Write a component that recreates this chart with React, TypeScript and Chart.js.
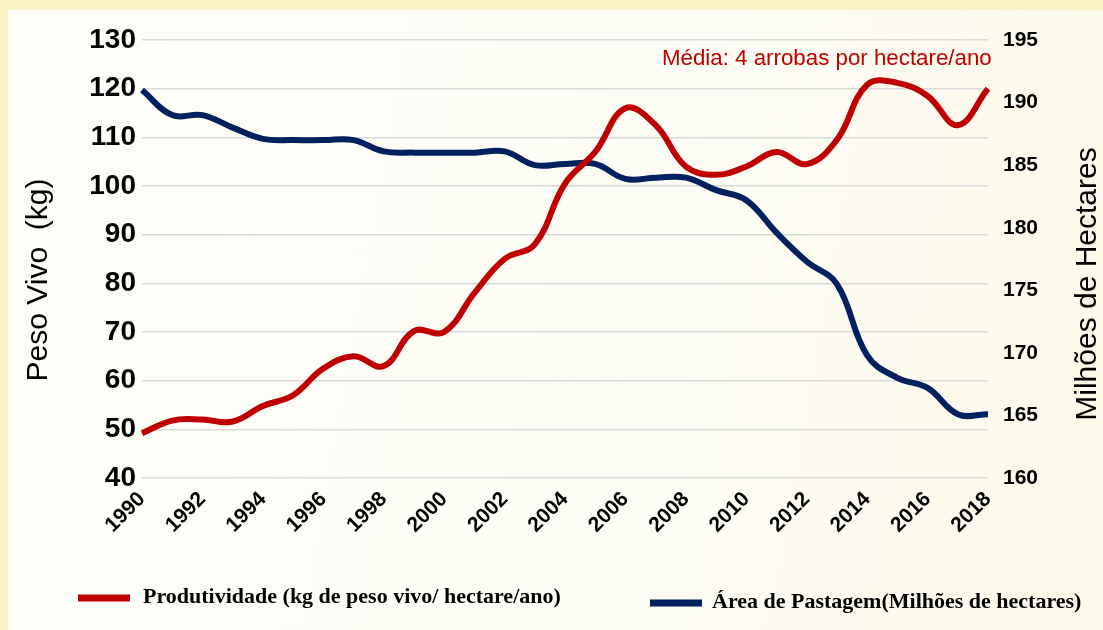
import React, { useEffect, useRef } from "react";
import { Chart, registerables } from "chart.js";

Chart.register(...registerables);

const years: string[] = [
  "1990","1991","1992","1993","1994","1995","1996","1997","1998","1999",
  "2000","2001","2002","2003","2004","2005","2006","2007","2008","2009",
  "2010","2011","2012","2013","2014","2015","2016","2017","2018",
];

const produtividade: number[] = [
  49.2, 51.8, 52, 51.6, 54.8, 57, 62.5, 65, 63, 70.2,
  70, 78, 85, 88, 100.5, 107, 116, 112.5, 104, 102.3,
  104, 107, 104.5, 109.5, 120.8, 121.2, 118.5, 112.5, 120,
];

const areaPastagem: number[] = [
  191, 189, 189, 188, 187.1, 187, 187, 187, 186.1, 186,
  186, 186, 186.1, 185, 185.1, 185.1, 183.9, 184, 184, 183,
  182.2, 179.6, 177.3, 175.5, 169.8, 168, 167.2, 165.1, 165.1,
];

const leftTitle = "Peso Vivo  (kg)";
const rightTitle = "Milhões de Hectares";
const note = "Média: 4 arrobas por hectare/ano";
const legendRed = "Produtividade (kg de peso vivo/ hectare/ano)";
const legendBlue = "Área de Pastagem(Milhões de hectares)";

const RED = "#c00000";
const BLUE = "#002060";

const decorPlugin = {
  id: "decor",
  afterDraw(chart: any) {
    const ctx = chart.ctx as CanvasRenderingContext2D;
    const area = chart.chartArea;
    ctx.save();
    ctx.fillStyle = "#000";
    ctx.font = "30px Arial, 'Liberation Sans', sans-serif";
    ctx.textAlign = "center";
    ctx.textBaseline = "middle";
    ctx.save();
    ctx.translate(39, area.top + (area.bottom - area.top) / 2 + 21);
    ctx.rotate(-Math.PI / 2);
    ctx.fillText(leftTitle, 0, 0);
    ctx.restore();
    ctx.save();
    ctx.translate(1088, area.top + (area.bottom - area.top) / 2 + 25);
    ctx.rotate(-Math.PI / 2);
    ctx.fillText(rightTitle, 0, 0);
    ctx.restore();
    ctx.fillStyle = RED;
    ctx.font = "22.3px Arial, 'Liberation Sans', sans-serif";
    ctx.textAlign = "left";
    ctx.textBaseline = "alphabetic";
    ctx.fillText(note, 662, 65);
    ctx.lineWidth = 7;
    ctx.strokeStyle = RED;
    ctx.beginPath();
    ctx.moveTo(78, 598);
    ctx.lineTo(130, 598);
    ctx.stroke();
    ctx.strokeStyle = BLUE;
    ctx.beginPath();
    ctx.moveTo(650, 603);
    ctx.lineTo(702, 603);
    ctx.stroke();
    ctx.fillStyle = "#000";
    ctx.font = "bold 22px 'Liberation Serif', 'Times New Roman', serif";
    ctx.textBaseline = "middle";
    ctx.fillText(legendRed, 143, 597);
    ctx.fillText(legendBlue, 712, 602);
    ctx.restore();
  },
};

export default function App() {
  const ref = useRef<HTMLCanvasElement | null>(null);

  useEffect(() => {
    if (!ref.current) return;
    const chart = new Chart(ref.current, {
      type: "line",
      data: {
        labels: years,
        datasets: [
          {
            label: legendRed,
            data: produtividade,
            borderColor: RED,
            backgroundColor: RED,
            borderWidth: 6,
            pointRadius: 0,
            tension: 0.4,
            yAxisID: "y",
          },
          {
            label: legendBlue,
            data: areaPastagem,
            borderColor: BLUE,
            backgroundColor: BLUE,
            borderWidth: 6,
            pointRadius: 0,
            tension: 0.4,
            yAxisID: "y1",
          },
        ],
      },
      options: {
        responsive: false,
        animation: false,
        layout: { padding: { top: 40, left: 0, right: 0, bottom: 0 } },
        plugins: {
          legend: { display: false },
          tooltip: { enabled: false },
          title: { display: false },
        },
        scales: {
          x: {
            grid: { display: false },
            border: { display: false },
            ticks: {
              autoSkip: false,
              maxRotation: 45,
              minRotation: 45,
              padding: 1,
              color: "#000",
              font: { family: "Arial, 'Liberation Sans', sans-serif", size: 21, weight: "bold" },
              callback: (_v: any, i: number) => (i % 2 === 0 ? years[i] : null),
            },
            afterFit: (s: any) => {
              s.height = 152;
            },
          },
          y: {
            position: "left",
            min: 40,
            max: 130,
            grid: { color: "#d9d9d9", lineWidth: 1.5, drawTicks: false },
            border: { display: false },
            ticks: {
              stepSize: 10,
              padding: 6,
              color: "#000",
              font: { family: "Arial, 'Liberation Sans', sans-serif", size: 28, weight: "bold" },
            },
            afterFit: (s: any) => {
              s.width = 142;
            },
          },
          y1: {
            position: "right",
            min: 160,
            max: 195,
            grid: { display: false, drawTicks: false },
            border: { display: false },
            ticks: {
              stepSize: 5,
              padding: 15,
              color: "#000",
              font: { family: "Arial, 'Liberation Sans', sans-serif", size: 21, weight: "bold" },
            },
            afterFit: (s: any) => {
              s.width = 115;
            },
          },
        },
      },
      plugins: [decorPlugin],
    });
    return () => chart.destroy();
  }, []);

  return (
    <div
      style={{
        position: "fixed",
        left: 0,
        top: 0,
        width: 1103,
        height: 630,
        background: "#fbf2c6",
        overflow: "hidden",
      }}
    >
      <div
        style={{
          position: "absolute",
          left: 8,
          top: 10,
          right: 0,
          bottom: 0,
          background: "linear-gradient(100deg, #fefdf8 0%, #fdfcf4 60%, #fcf9e8 100%)",
        }}
      />
      <canvas
        ref={ref}
        width={1103}
        height={630}
        style={{ position: "absolute", left: 0, top: 0, width: 1103, height: 630 }}
      />
    </div>
  );
}
